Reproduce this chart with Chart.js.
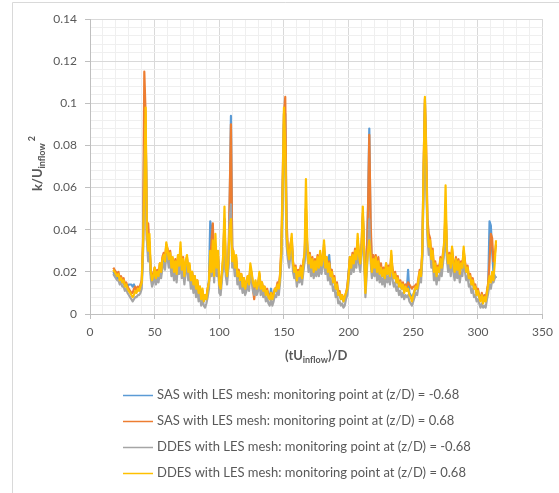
<!DOCTYPE html>
<html><head><meta charset="utf-8">
<script src="https://cdn.jsdelivr.net/npm/chart.js@4.4.1/dist/chart.umd.min.js"></script>
<style>html,body{margin:0;padding:0;background:#fff;}#wrap{width:559px;height:493px;}</style>
</head><body><div id="wrap"><canvas id="c" width="559" height="493"></canvas></div>
<script>
const times = [
18,19,20,21,22,23,24,25,26,27, 28,29,30,31,32,33,34,35,36,37, 38,39,40,41,42,43,44,45,46,47,
48,49,50,51,52,53,54,55,56,57, 58,59,60,61,62,63,64,65,66,67, 68,69,70,71,72,73,74,75,76,77,
78,79,80,81,82,83,84,85,86,87, 88,89,90,91,92,93,94,95,96,97, 98,99,100,101,102,103,104,105,106,107,
108,109,110,111,112,113,114,115,116,117, 118,119,120,121,122,123,124,125,126,127, 128,129,130,131,132,133,134,135,136,137,
138,139,140,141,142,143,144,145,146,147, 148,149,150,151,152,153,154,155,156,157, 158,159,160,161,162,163,164,165,166,167,
168,169,170,171,172,173,174,175,176,177, 178,179,180,181,182,183,184,185,186,187, 188,189,190,191,192,193,194,195,196,197,
198,199,200,201,202,203,204,205,206,207, 208,209,210,211,212,213,214,215,216,217, 218,219,220,221,222,223,224,225,226,227,
228,229,230,231,232,233,234,235,236,237, 238,239,240,241,242,243,244,245,246,247, 248,249,250,251,252,253,254,255,256,257,
258,259,260,261,262,263,264,265,266,267, 268,269,270,271,272,273,274,275,276,277, 278,279,280,281,282,283,284,285,286,287,
288,289,290,291,292,293,294,295,296,297, 298,299,300,301,302,303,304,305,306,307, 308,309,310,311,312,313,314
];
const sasNeg = [
0.020,0.019,0.018,0.017,0.018,0.016,0.016,0.015,0.015,0.013, 0.014,0.013,0.014,0.014,0.014,0.013,0.014,0.012,0.011,0.012,
0.012,0.013,0.014,0.030,0.085,0.090,0.038,0.028,0.034,0.019, 0.015,0.017,0.020,0.016,0.019,0.018,0.022,0.019,0.025,0.027,
0.024,0.031,0.028,0.025,0.027,0.021,0.025,0.019,0.023,0.018, 0.026,0.022,0.030,0.020,0.024,0.017,0.023,0.026,0.019,0.022,
0.015,0.019,0.013,0.017,0.011,0.015,0.009,0.012,0.007,0.010, 0.006,0.008,0.007,0.011,0.016,0.044,0.040,0.030,0.020,0.028,
0.020,0.026,0.013,0.012,0.018,0.024,0.040,0.020,0.017,0.022, 0.050,0.094,0.030,0.026,0.021,0.025,0.017,0.019,0.015,0.018,
0.013,0.016,0.012,0.014,0.017,0.014,0.021,0.019,0.014,0.010, 0.015,0.012,0.013,0.018,0.012,0.014,0.011,0.012,0.009,0.011,
0.009,0.008,0.012,0.008,0.009,0.011,0.011,0.013,0.012,0.017, 0.028,0.055,0.090,0.095,0.040,0.028,0.025,0.030,0.034,0.023,
0.019,0.021,0.016,0.019,0.017,0.021,0.017,0.022,0.026,0.045, 0.030,0.022,0.026,0.021,0.025,0.020,0.024,0.021,0.025,0.021,
0.027,0.022,0.025,0.030,0.022,0.026,0.021,0.028,0.019,0.020, 0.015,0.016,0.012,0.013,0.009,0.010,0.007,0.008,0.006,0.007,
0.009,0.012,0.020,0.026,0.022,0.027,0.024,0.028,0.025,0.032, 0.027,0.024,0.030,0.045,0.030,0.015,0.025,0.050,0.088,0.040,
0.022,0.025,0.022,0.026,0.020,0.024,0.019,0.022,0.018,0.020, 0.017,0.022,0.019,0.021,0.018,0.026,0.020,0.017,0.018,0.015,
0.016,0.013,0.014,0.012,0.013,0.011,0.012,0.011,0.021,0.010, 0.009,0.008,0.009,0.011,0.012,0.012,0.015,0.019,0.018,0.028,
0.065,0.100,0.070,0.040,0.033,0.032,0.025,0.028,0.020,0.023, 0.018,0.021,0.020,0.025,0.022,0.026,0.030,0.045,0.028,0.023,
0.026,0.022,0.029,0.024,0.020,0.025,0.021,0.024,0.019,0.023, 0.022,0.029,0.023,0.020,0.021,0.017,0.017,0.014,0.015,0.012,
0.013,0.010,0.010,0.008,0.007,0.008,0.006,0.007,0.006,0.010, 0.014,0.044,0.042,0.030,0.020,0.018,0.017
];
const sasPos = [
0.022,0.021,0.020,0.019,0.020,0.017,0.018,0.016,0.017,0.014, 0.015,0.013,0.012,0.011,0.010,0.010,0.012,0.013,0.011,0.013,
0.012,0.014,0.016,0.035,0.115,0.095,0.035,0.043,0.032,0.021, 0.017,0.019,0.022,0.018,0.021,0.019,0.024,0.021,0.027,0.029,
0.026,0.033,0.031,0.027,0.030,0.023,0.026,0.021,0.026,0.020, 0.027,0.024,0.031,0.022,0.027,0.019,0.024,0.027,0.021,0.023,
0.017,0.020,0.015,0.018,0.013,0.016,0.011,0.013,0.008,0.011, 0.007,0.009,0.008,0.012,0.015,0.025,0.035,0.043,0.022,0.032,
0.021,0.028,0.015,0.013,0.019,0.026,0.045,0.021,0.019,0.024, 0.055,0.090,0.032,0.028,0.023,0.027,0.019,0.021,0.017,0.019,
0.014,0.017,0.013,0.015,0.018,0.015,0.022,0.019,0.012,0.007, 0.013,0.011,0.014,0.019,0.013,0.015,0.012,0.013,0.010,0.012,
0.009,0.008,0.010,0.008,0.010,0.012,0.012,0.015,0.013,0.019, 0.032,0.065,0.095,0.103,0.045,0.031,0.027,0.033,0.036,0.025,
0.021,0.023,0.018,0.021,0.019,0.023,0.018,0.025,0.028,0.050, 0.032,0.025,0.029,0.023,0.027,0.021,0.026,0.022,0.028,0.023,
0.029,0.024,0.027,0.033,0.023,0.027,0.021,0.025,0.019,0.021, 0.016,0.018,0.013,0.015,0.010,0.011,0.008,0.009,0.007,0.008,
0.010,0.013,0.019,0.027,0.024,0.029,0.026,0.031,0.027,0.035, 0.029,0.026,0.033,0.048,0.032,0.013,0.024,0.050,0.085,0.045,
0.024,0.028,0.023,0.028,0.022,0.027,0.020,0.024,0.019,0.022, 0.018,0.024,0.020,0.023,0.019,0.028,0.021,0.018,0.020,0.016,
0.018,0.014,0.016,0.013,0.015,0.012,0.014,0.013,0.015,0.014, 0.013,0.012,0.013,0.013,0.014,0.013,0.017,0.021,0.019,0.030,
0.070,0.102,0.080,0.045,0.038,0.036,0.028,0.031,0.022,0.025, 0.019,0.023,0.021,0.027,0.023,0.029,0.033,0.050,0.031,0.025,
0.029,0.023,0.031,0.025,0.021,0.027,0.022,0.026,0.020,0.025, 0.023,0.030,0.025,0.021,0.023,0.018,0.019,0.015,0.017,0.013,
0.014,0.010,0.012,0.009,0.007,0.010,0.006,0.009,0.007,0.011, 0.015,0.025,0.038,0.036,0.025,0.028,0.033
];
const ddesNeg = [
0.019,0.018,0.017,0.016,0.016,0.014,0.015,0.013,0.013,0.011, 0.012,0.010,0.009,0.008,0.007,0.006,0.007,0.008,0.008,0.009,
0.009,0.010,0.012,0.028,0.070,0.090,0.035,0.025,0.030,0.017, 0.013,0.015,0.018,0.014,0.017,0.015,0.020,0.017,0.022,0.024,
0.021,0.028,0.026,0.022,0.025,0.018,0.022,0.016,0.021,0.015, 0.023,0.019,0.027,0.017,0.021,0.014,0.020,0.023,0.016,0.019,
0.012,0.016,0.010,0.014,0.008,0.012,0.006,0.009,0.004,0.007, 0.004,0.003,0.005,0.008,0.012,0.026,0.018,0.030,0.015,0.033,
0.018,0.026,0.010,0.009,0.016,0.024,0.045,0.018,0.014,0.022, 0.045,0.052,0.022,0.025,0.018,0.023,0.014,0.016,0.012,0.015,
0.010,0.013,0.009,0.011,0.014,0.011,0.019,0.016,0.011,0.009, 0.012,0.009,0.011,0.016,0.009,0.012,0.008,0.010,0.006,0.008,
0.005,0.004,0.007,0.004,0.006,0.009,0.008,0.011,0.009,0.015, 0.026,0.055,0.095,0.070,0.033,0.026,0.022,0.028,0.033,0.020,
0.017,0.019,0.013,0.017,0.015,0.019,0.014,0.020,0.025,0.050, 0.030,0.020,0.024,0.018,0.022,0.017,0.021,0.018,0.023,0.018,
0.026,0.019,0.022,0.030,0.019,0.023,0.016,0.020,0.014,0.016, 0.011,0.013,0.008,0.010,0.005,0.006,0.004,0.005,0.003,0.004,
0.007,0.009,0.015,0.023,0.019,0.024,0.020,0.026,0.022,0.033, 0.024,0.020,0.028,0.046,0.026,0.008,0.019,0.030,0.045,0.025,
0.017,0.022,0.018,0.023,0.016,0.021,0.015,0.018,0.014,0.017, 0.013,0.020,0.015,0.018,0.014,0.026,0.016,0.013,0.015,0.011,
0.013,0.009,0.011,0.008,0.010,0.007,0.009,0.008,0.009,0.006, 0.005,0.004,0.006,0.008,0.010,0.009,0.013,0.017,0.015,0.026,
0.060,0.095,0.065,0.036,0.028,0.031,0.022,0.026,0.016,0.020, 0.014,0.018,0.016,0.022,0.018,0.024,0.030,0.050,0.026,0.020,
0.024,0.018,0.027,0.020,0.016,0.022,0.017,0.021,0.015,0.020, 0.018,0.027,0.020,0.016,0.018,0.013,0.014,0.010,0.012,0.008,
0.009,0.006,0.007,0.005,0.003,0.005,0.003,0.004,0.003,0.007, 0.010,0.014,0.012,0.016,0.015,0.017,0.018
];
const ddesPos = [
0.021,0.020,0.019,0.018,0.019,0.016,0.017,0.015,0.016,0.013, 0.014,0.012,0.011,0.010,0.009,0.008,0.009,0.011,0.010,0.012,
0.011,0.013,0.015,0.032,0.060,0.098,0.040,0.030,0.038,0.020, 0.016,0.018,0.022,0.017,0.020,0.018,0.024,0.020,0.026,0.028,
0.025,0.034,0.030,0.026,0.029,0.022,0.027,0.020,0.025,0.019, 0.028,0.023,0.034,0.021,0.026,0.018,0.025,0.028,0.020,0.024,
0.016,0.020,0.014,0.018,0.012,0.016,0.010,0.013,0.007,0.012, 0.006,0.009,0.007,0.012,0.015,0.030,0.020,0.035,0.018,0.038,
0.022,0.030,0.014,0.012,0.020,0.028,0.051,0.022,0.018,0.026, 0.040,0.045,0.025,0.030,0.022,0.028,0.018,0.020,0.016,0.019,
0.013,0.017,0.012,0.015,0.018,0.014,0.024,0.020,0.015,0.013, 0.016,0.012,0.014,0.020,0.012,0.015,0.011,0.013,0.009,0.011,
0.008,0.007,0.010,0.007,0.009,0.012,0.011,0.014,0.012,0.018, 0.030,0.060,0.098,0.080,0.038,0.030,0.026,0.032,0.038,0.024,
0.020,0.022,0.016,0.020,0.018,0.022,0.017,0.024,0.030,0.064, 0.035,0.024,0.028,0.022,0.026,0.020,0.025,0.021,0.027,0.022,
0.030,0.023,0.026,0.035,0.022,0.027,0.020,0.024,0.018,0.020, 0.015,0.017,0.012,0.014,0.009,0.010,0.007,0.009,0.006,0.008,
0.010,0.012,0.018,0.027,0.022,0.028,0.024,0.030,0.026,0.038, 0.028,0.024,0.032,0.051,0.030,0.010,0.022,0.030,0.035,0.028,
0.020,0.026,0.022,0.027,0.020,0.025,0.019,0.022,0.018,0.021, 0.017,0.024,0.019,0.022,0.018,0.030,0.020,0.017,0.019,0.015,
0.017,0.013,0.015,0.012,0.014,0.010,0.013,0.011,0.012,0.009, 0.008,0.006,0.009,0.011,0.013,0.012,0.016,0.020,0.018,0.030,
0.070,0.103,0.075,0.040,0.032,0.035,0.026,0.030,0.020,0.024, 0.018,0.022,0.020,0.026,0.022,0.028,0.035,0.061,0.030,0.024,
0.028,0.022,0.032,0.024,0.020,0.026,0.021,0.025,0.019,0.024, 0.022,0.032,0.024,0.020,0.022,0.017,0.018,0.014,0.016,0.012,
0.013,0.009,0.011,0.008,0.006,0.009,0.005,0.008,0.006,0.010, 0.014,0.018,0.015,0.020,0.016,0.024,0.035
];
const seriesLabels = [
  'SAS with LES mesh: monitoring point at (z/D) = -0.68',
  'SAS with LES mesh: monitoring point at (z/D) = 0.68',
  'DDES with LES mesh: monitoring point at (z/D) = -0.68',
  'DDES with LES mesh: monitoring point at (z/D) = 0.68'
];
const seriesColors = ['#5B9BD5', '#ED7D31', '#A5A5A5', '#FFC000'];
const seriesValues = [sasNeg, sasPos, ddesNeg, ddesPos];
const xMin = 0, xMax = 350, xMinorStep = 10, xMajorStep = 50;
const yMin = 0, yMax = 0.14, yMinorStep = 0.004, yMajorEvery = 5;

const FONT = 'Lato, "Open Sans", sans-serif';
const TXT = '#595959';

const datasets = seriesValues.map((vals, i) => ({
  label: seriesLabels[i],
  data: times.map((t, j) => ({ x: t, y: vals[j] })),
  borderColor: seriesColors[i],
  backgroundColor: seriesColors[i],
  borderWidth: 2.2,
  pointRadius: 0,
  tension: 0,
  fill: false,
  borderJoinStyle: 'round',
  order: 4 - i
}));

function isMajorX(v) { return Math.round(v) % xMajorStep === 0; }
function isMajorY(v) { return Math.round(v / yMinorStep) % yMajorEvery === 0; }

function drawRich(ctx, parts, cx, baseline) {
  let total = 0;
  parts.forEach(p => { ctx.font = p.font; p.w = ctx.measureText(p.t).width; total += p.w; });
  let x = cx - total / 2;
  ctx.textAlign = 'left';
  ctx.textBaseline = 'alphabetic';
  parts.forEach(p => { ctx.font = p.font; ctx.fillText(p.t, x, baseline + p.dy); x += p.w; });
}

const decor = {
  id: 'decor',
  beforeDraw(chart) {
    const c = chart.ctx;
    c.save();
    c.fillStyle = '#fff';
    c.fillRect(0, 0, chart.width, chart.height);
    c.strokeStyle = '#d9d9d9';
    c.lineWidth = 1;
    c.beginPath();
    c.moveTo(12.5, chart.height);
    c.lineTo(12.5, 2.5);
    c.lineTo(chart.width, 2.5);
    c.stroke();
    c.restore();
  },
  afterDraw(chart) {
    const c = chart.ctx;
    const area = chart.chartArea;
    c.save();
    c.fillStyle = TXT;
    const big = 'bold 13px ' + FONT, small = 'bold 9px ' + FONT;
    drawRich(c, [
      { t: '(tU', font: big, dy: 0 },
      { t: 'inflow', font: small, dy: 3 },
      { t: ')/D', font: big, dy: 0 }
    ], (area.left + area.right) / 2, 360);
    c.save();
    c.translate(42, (area.top + area.bottom) / 2 - 3);
    c.rotate(-Math.PI / 2);
    drawRich(c, [
      { t: 'k/U', font: big, dy: 0 },
      { t: 'inflow', font: small, dy: 3 },
      { t: ' 2', font: small, dy: -7 }
    ], 0, 0);
    c.restore();
    // legend
    c.font = '13px ' + FONT;
    c.textBaseline = 'middle';
    c.textAlign = 'left';
    chart.data.datasets.forEach((ds, i) => {
      const y = 395 + i * 26;
      c.strokeStyle = ds.borderColor;
      c.lineWidth = 1.5;
      c.beginPath();
      c.moveTo(123, y + 0.5);
      c.lineTo(153, y + 0.5);
      c.stroke();
      c.fillStyle = TXT;
      c.fillText(ds.label, 157, y);
    });
    c.restore();
  }
};

new Chart(document.getElementById('c'), {
  type: 'line',
  data: { datasets },
  plugins: [decor],
  options: {
    responsive: false,
    animation: false,
    devicePixelRatio: 1,
    layout: { padding: { top: 19, right: 16, left: 0, bottom: 0 } },
    plugins: { legend: { display: false }, tooltip: { enabled: false } },
    scales: {
      x: {
        type: 'linear', min: xMin, max: xMax,
        afterFit(s) { s.height = 179; },
        ticks: {
          stepSize: xMinorStep, autoSkip: false, maxRotation: 0, padding: 6,
          color: TXT, font: { family: FONT, size: 12 },
          callback: v => isMajorX(v) ? String(Math.round(v)) : ''
        },
        grid: {
          color: ctx => (ctx.tick && isMajorX(ctx.tick.value)) ? '#d9d9d9' : '#efefef',
          tickColor: ctx => (ctx.tick && isMajorX(ctx.tick.value)) ? '#bfbfbf' : 'rgba(0,0,0,0)',
          tickLength: 5, lineWidth: 1
        },
        border: { color: '#bfbfbf', width: 1 }
      },
      y: {
        type: 'linear', min: yMin, max: yMax,
        afterFit(s) { s.width = 90; },
        ticks: {
          stepSize: yMinorStep, autoSkip: false, padding: 8,
          color: TXT, font: { family: FONT, size: 12 },
          callback: v => isMajorY(v) ? String(parseFloat((Math.round(v / yMinorStep) * yMinorStep).toFixed(3))) : ''
        },
        grid: {
          color: ctx => (ctx.tick && isMajorY(ctx.tick.value)) ? '#d9d9d9' : '#efefef',
          tickColor: ctx => (ctx.tick && isMajorY(ctx.tick.value)) ? '#bfbfbf' : 'rgba(0,0,0,0)',
          tickLength: 5, lineWidth: 1
        },
        border: { color: '#bfbfbf', width: 1 }
      }
    }
  }
});
</script>
</body></html>
